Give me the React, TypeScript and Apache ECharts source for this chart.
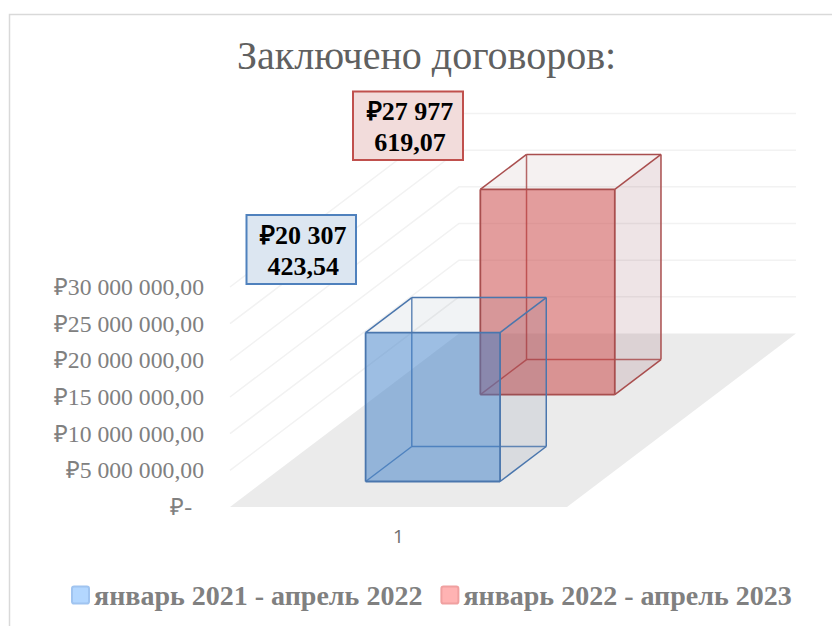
import React, { useEffect, useRef } from "react";
import * as echarts from "echarts";

const titleText = "Заключено договоров:";
const categories = ["1"];
const yTicks = [0, 5000000, 10000000, 15000000, 20000000, 25000000, 30000000];
const yTickLabels: Record<number, string> = {
  0: "₽-\u00A0\u00A0",
  5000000: "₽5 000 000,00",
  10000000: "₽10 000 000,00",
  15000000: "₽15 000 000,00",
  20000000: "₽20 000 000,00",
  25000000: "₽25 000 000,00",
  30000000: "₽30 000 000,00",
};
const seriesNames = ["январь 2021 - апрель 2022", "январь 2022 - апрель 2023"];
const values2021 = [20307423.54];
const values2022 = [27977619.07];
const labels2021 = ["₽20 307", "423,54"];
const labels2022 = ["₽27 977", "619,07"];

const SERIF = '"Liberation Serif", "Times New Roman", serif';
const LEGEND_ICON = "path://M2,0H14Q16,0 16,2V14Q16,16 14,16H2Q0,16 0,14V2Q0,0 2,0Z";
const DX = 229;
const DY = -173.5;

function makeProject(api: any) {
  const w = api.size([1, 0])[0];
  const cx = api.coord([0, 0])[0];
  const left = cx - w / 2;
  return (u: number, t: number, v: number) => {
    const y = api.coord([0, v])[1];
    return [left + u * w + t * DX, y + t * DY];
  };
}

const renderGrid = (_: any, api: any) => {
  const v = api.value(1);
  const p = makeProject(api);
  const children: any[] = [];
  if (v === 0) {
    children.push({
      type: "polygon",
      shape: { points: [p(0, 0, 0), p(1, 0, 0), p(1, 1, 0), p(0, 1, 0)] },
      style: { fill: "#ebebeb", stroke: "none" },
    });
  } else {
    children.push({
      type: "polyline",
      shape: { points: [p(0, 0, v), p(0, 1, v), p(1, 1, v)] },
      style: { fill: "none", stroke: "#f2f2f2", lineWidth: 1.5 },
    });
  }
  return { type: "group", children };
};

function boxRenderer(opt: {
  t0: number;
  front: string;
  side: string;
  top: string;
  line: string;
  labelFill: string;
  labelStroke: string;
  lines: string[];
  rect: [number, number, number, number];
}) {
  return (_: any, api: any) => {
    const v = api.value(1);
    const p = makeProject(api);
    const u0 = 0.3025;
    const u1 = 0.7015;
    const t0 = opt.t0;
    const t1 = t0 + 0.2017;
    const poly = (pts: number[][], fill: string) => ({
      type: "polygon",
      shape: { points: pts },
      style: { fill, stroke: "none" },
    });
    const seg = (a: number[], b: number[], op = 1, lw = 1.5) => ({
      type: "line",
      shape: { x1: a[0], y1: a[1], x2: b[0], y2: b[1] },
      style: { stroke: opt.line, lineWidth: lw, opacity: op },
    });
    const F = [p(u0, t0, 0), p(u1, t0, 0), p(u1, t0, v), p(u0, t0, v)];
    const B = [p(u0, t1, 0), p(u1, t1, 0), p(u1, t1, v), p(u0, t1, v)];
    const [x, y, w, h] = opt.rect;
    const text = (line: string, dy: number) => ({
      type: "text",
      x: x + w / 2 + 2,
      y: y + dy,
      style: {
        text: line,
        fill: "#000",
        font: `bold 26px ${SERIF}`,
        textAlign: "center",
        textVerticalAlign: "middle",
      },
    });
    return {
      type: "group",
      children: [
        poly([F[1], B[1], B[2], F[2]], opt.side),
        poly([F[3], F[2], B[2], B[3]], opt.top),
        seg(B[0], B[1], 0.85),
        seg(B[1], B[2]),
        seg(B[2], B[3]),
        seg(B[3], B[0], 0.85),
        seg(F[0], B[0], 0.85),
        seg(F[1], B[1]),
        seg(F[2], B[2]),
        seg(F[3], B[3]),
        poly(F, opt.front),
        seg(F[0], F[1], 1, 1.8),
        seg(F[1], F[2], 1, 1.8),
        seg(F[2], F[3], 1, 1.8),
        seg(F[3], F[0], 1, 1.8),
        {
          type: "rect",
          shape: { x, y, width: w, height: h },
          style: { fill: opt.labelFill, stroke: opt.labelStroke, lineWidth: 2 },
        },
        text(opt.lines[0], 20),
        text(opt.lines[1], 51),
      ],
    };
  };
}

export default function App() {
  const ref = useRef<HTMLDivElement>(null);
  useEffect(() => {
    const chart = echarts.init(ref.current!, null, { renderer: "svg" });
    chart.setOption({
      animation: false,
      backgroundColor: "#fff",
      title: {
        text: titleText,
        left: 237,
        top: 35,
        padding: 0,
        textStyle: { fontFamily: SERIF, fontSize: 40, fontWeight: "normal", color: "#606060" },
      },
      legend: {
        left: 66,
        top: 576,
        itemWidth: 17,
        itemHeight: 17,
        itemGap: 18,
        icon: LEGEND_ICON,
        data: seriesNames,
        textStyle: { fontFamily: SERIF, fontSize: 28, fontWeight: "bold", color: "#808080" },
      },
      grid: { left: 230, right: 265, top: 287, bottom: 119, containLabel: false },
      xAxis: {
        type: "category",
        data: categories,
        axisLine: { show: false },
        axisTick: { show: false },
        axisLabel: { color: "#6e6e6e", fontFamily: '"Open Sans"', fontSize: 19, margin: 19 },
      },
      yAxis: {
        type: "value",
        min: 0,
        max: 30000000,
        interval: 5000000,
        axisLine: { show: false },
        axisTick: { show: false },
        splitLine: { show: false },
        axisLabel: {
          margin: 26,
          color: "#808080",
          fontFamily: SERIF,
          fontSize: 23.7,
          formatter: (v: number) => yTickLabels[v],
        },
      },
      graphic: [
        {
          type: "polyline",
          shape: { points: [[9.5, 640], [9.5, 14.5], [850, 14.5]] },
          style: { fill: "none", stroke: "#d9d9d9", lineWidth: 1.5 },
          silent: true,
        },
      ],
      series: [
        {
          type: "custom",
          name: "grid",
          renderItem: renderGrid,
          data: yTicks.map((v) => [0, v]),
          silent: true,
          z: 1,
        },
        {
          type: "custom",
          name: seriesNames[1],
          itemStyle: { color: "#ffb3b3", borderColor: "#f0a0a0", borderWidth: 1 },
          renderItem: boxRenderer({
            t0: 0.648,
            front: "rgba(200,60,60,0.5)",
            side: "rgba(120,50,60,0.13)",
            top: "rgba(120,50,60,0.07)",
            line: "#a94e4e",
            labelFill: "#f2dcdb",
            labelStroke: "#c0504d",
            lines: labels2022,
            rect: [353, 91.5, 110, 68.5],
          }),
          data: values2022.map((v) => [0, v]),
          silent: true,
          z: 2,
        },
        {
          type: "custom",
          name: seriesNames[0],
          itemStyle: { color: "#b3d7ff", borderColor: "#a0c4f0", borderWidth: 1 },
          renderItem: boxRenderer({
            t0: 0.147,
            front: "rgba(60,125,200,0.5)",
            side: "rgba(60,80,120,0.1)",
            top: "rgba(60,80,120,0.07)",
            line: "#4a76ad",
            labelFill: "#dce6f1",
            labelStroke: "#4f81bd",
            lines: labels2021,
            rect: [246.5, 215, 109.5, 69],
          }),
          data: values2021.map((v) => [0, v]),
          silent: true,
          z: 3,
        },
      ],
    });
    return () => chart.dispose();
  }, []);
  return <div ref={ref} style={{ position: "fixed", left: 0, top: 0, width: 832, height: 626 }} />;
}
